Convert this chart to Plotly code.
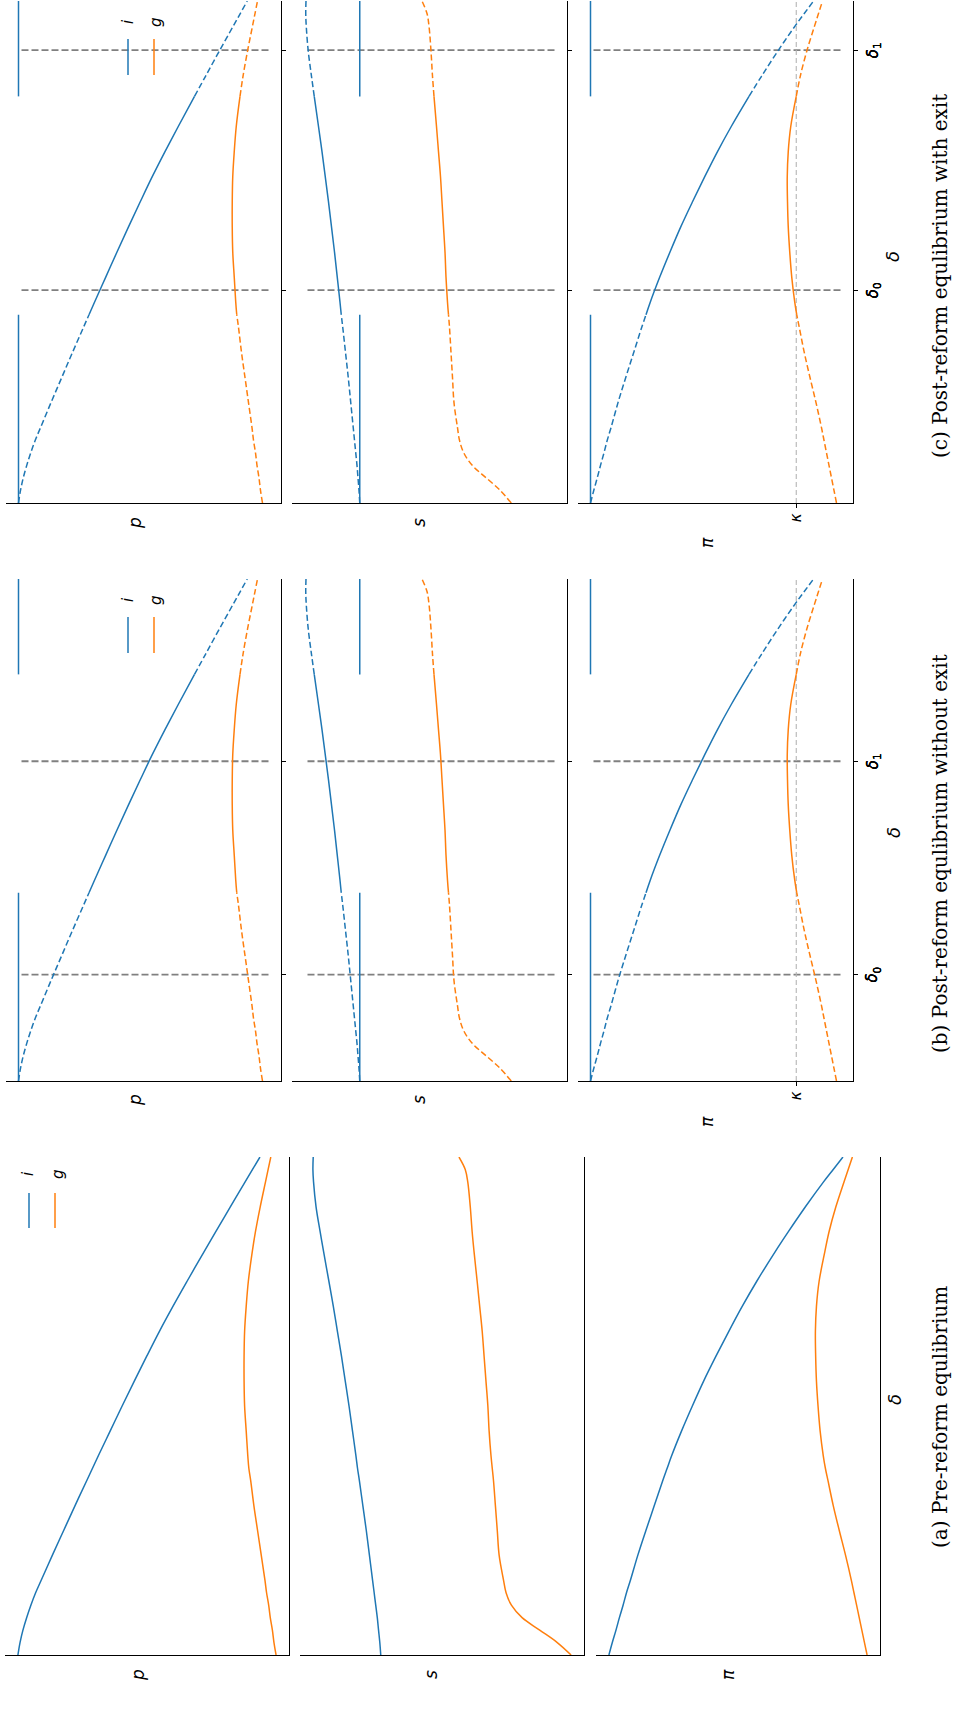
import plotly.graph_objects as go

W, H = 959, 1715

# sample points along delta (shared by every curve)
DELTA = [0, 0.025, 0.05, 0.075, 0.1, 0.125, 0.15, 0.2, 0.25, 0.3, 0.35, 0.375,
         0.4, 0.45, 0.5, 0.55, 0.6, 0.65, 0.7, 0.75, 0.81, 0.85, 0.9, 0.95, 0.975, 1.0]

# pre-reform equilibrium profiles for type i and type g firms
P_I = [1.000, 0.992, 0.981, 0.967, 0.951, 0.933, 0.912, 0.870, 0.827, 0.784, 0.740, 0.718,
       0.696, 0.651, 0.606, 0.560, 0.513, 0.465, 0.414, 0.361, 0.296, 0.252, 0.197, 0.141, 0.113, 0.085]
P_G = [0.024, 0.032, 0.038, 0.046, 0.052, 0.060, 0.066, 0.080, 0.094, 0.108, 0.120, 0.127,
       0.131, 0.137, 0.143, 0.145, 0.145, 0.143, 0.137, 0.129, 0.114, 0.102, 0.084, 0.064, 0.054, 0.044]
S_I = [0.779, 0.782, 0.786, 0.790, 0.795, 0.800, 0.805, 0.815, 0.825, 0.836, 0.847, 0.853,
       0.858, 0.869, 0.880, 0.892, 0.904, 0.917, 0.930, 0.944, 0.961, 0.972, 0.985, 0.993, 0.995, 0.994]
S_G = [0.173, 0.217, 0.273, 0.329, 0.363, 0.380, 0.388, 0.402, 0.408, 0.414, 0.420, 0.424,
       0.428, 0.434, 0.438, 0.444, 0.450, 0.456, 0.464, 0.472, 0.482, 0.488, 0.494, 0.502, 0.510, 0.530]
PI_I = [1.000, 0.987, 0.973, 0.960, 0.946, 0.933, 0.918, 0.890, 0.859, 0.827, 0.795, 0.778,
        0.761, 0.723, 0.682, 0.639, 0.592, 0.543, 0.492, 0.437, 0.366, 0.316, 0.251, 0.182, 0.145, 0.108]
PI_G = [0.016, 0.026, 0.036, 0.046, 0.056, 0.066, 0.076, 0.098, 0.122, 0.145, 0.165, 0.175,
        0.183, 0.195, 0.203, 0.209, 0.212, 0.213, 0.209, 0.199, 0.177, 0.161, 0.135, 0.104, 0.088, 0.072]

KAPPA = 0.177                    # entry cost
DELTA_LO, DELTA_HI = 0.375, 0.81  # where g-firm profit equals kappa
DELTA_MARKS = {"b": (0.212, 0.637), "c": (0.424, 0.902)}  # delta_0, delta_1

VARIABLES = ["p", "s", "pi"]
VAR_LABELS = {"p": "<i>p</i>", "s": "<i>s</i>", "pi": "<i>π</i>"}
SERIES = {"p": (P_I, P_G), "s": (S_I, S_G), "pi": (PI_I, PI_G)}
LEGEND_LABELS = ["i", "g"]
CAPTIONS = {"a": "(a) Pre-reform equlibrium",
            "b": "(b) Post-reform equlibrium without exit",
            "c": "(c) Post-reform equlibrium with exit"}

BLUE, ORANGE = "#1f77b4", "#ff7f0e"

# page layout (pixels); the whole page is drawn turned a quarter turn
PANEL_X = {"a": [(5, 289), (300, 584), (596, 880)],
           "b": [(6, 281), (292, 567), (578, 853)],
           "c": [(6, 281), (292, 567), (578, 853)]}
PANEL_Y = {"a": (1157, 1655), "b": (579, 1081), "c": (1, 503)}
LABEL_X = {"a": [138, 431, 728], "b": [135, 419, 707], "c": [135, 419, 707]}
LABEL_Y = {"a": [1675, 1675, 1675], "b": [1100, 1100, 1122], "c": [523, 523, 543]}
KAPPA_LABEL_Y = {"b": 1096, "c": 518}
DELTA_LABEL = {"a": (894, 1400), "b": (893, 833), "c": (893, 257)}
TICK_LABEL_X = 873
CAPTION_POS = {"a": (940, 1417), "b": (940, 854), "c": (940, 276)}
LEGEND_POS = {"a": ((29, 55), (36, 71), 17, (28, 58)),
              "b": ((128, 154), (38, 74), 21, (128, 156)),
              "c": ((128, 154), (38, 74), 21, (128, 156))}

MATH_FONT = "DejaVu Sans"
CAPTION_FONT = "DejaVu Serif"


def fx(px):
    return px / W


def fy(py):
    return 1 - py / H


fig = go.Figure()
layout = dict(width=W, height=H, margin=dict(l=0, r=0, t=0, b=0), autosize=False,
              paper_bgcolor="white", plot_bgcolor="white", showlegend=False)
annotations = []
shapes = []


def idx(d):
    return DELTA.index(d)


i_lo, i_hi = idx(DELTA_LO), idx(DELTA_HI)

n = 0
for key in ["a", "b", "c"]:
    y_top, y_bot = PANEL_Y[key]
    for j, var in enumerate(VARIABLES):
        n += 1
        xa = "xaxis" if n == 1 else f"xaxis{n}"
        ya = "yaxis" if n == 1 else f"yaxis{n}"
        xr = "x" if n == 1 else f"x{n}"
        yr = "y" if n == 1 else f"y{n}"
        x0, x1 = PANEL_X[key][j]
        vi, vg = SERIES[var]

        if key == "a":
            lo, hi = min(vi + vg), max(vi + vg)
        else:
            lo, hi = 0.0, 1.0
        pad = 0.05 * (hi - lo)

        x_ticks = dict(ticks="")
        y_ticks = dict(ticks="")
        if key != "a":
            y_ticks = dict(ticks="outside", tickvals=list(DELTA_MARKS[key]),
                           ticklen=4, tickwidth=1, tickcolor="black")
            if var == "pi":
                x_ticks = dict(ticks="outside", tickvals=[KAPPA], ticklen=4,
                               tickwidth=1, tickcolor="black")

        layout[xa] = dict(domain=[fx(x0), fx(x1)], range=[hi + pad, lo - pad],
                          anchor=yr, showline=True, linecolor="black", linewidth=1.1,
                          showgrid=False, zeroline=False, showticklabels=False,
                          fixedrange=True, **x_ticks)
        layout[ya] = dict(domain=[fy(y_bot), fy(y_top)], range=[0, 1], anchor=xr,
                          side="right", showline=True, linecolor="black", linewidth=1.1,
                          showgrid=False, zeroline=False, showticklabels=False,
                          fixedrange=True, **y_ticks)

        def line(xs, ys, color, dash="solid", width=1.5, shape="spline"):
            fig.add_trace(go.Scatter(x=xs, y=ys, mode="lines", xaxis=xr, yaxis=yr,
                                     line=dict(color=color, width=width, dash=dash,
                                               shape=shape),
                                     hoverinfo="skip"))

        if key == "a":
            line(vi, DELTA, BLUE)
            line(vg, DELTA, ORANGE)
        else:
            # reference lines at delta_0 / delta_1
            for dm in DELTA_MARKS[key]:
                line([0, 1], [dm, dm], "#808080", dash="7px,3px", width=1.8, shape="linear")
            if var == "pi":
                line([KAPPA, KAPPA], [0, 1], "#b5b5b5", dash="5px,3px", width=1.1,
                     shape="linear")
            for vals, color in ((vi, BLUE), (vg, ORANGE)):
                line(vals[:i_lo + 1], DELTA[:i_lo + 1], color, dash="6px,3px")
                line(vals[i_lo:i_hi + 1], DELTA[i_lo:i_hi + 1], color)
                line(vals[i_hi:], DELTA[i_hi:], color, dash="6px,3px")
            # post-reform i firms outside the band keep the corner value
            c = vi[0]
            line([c, c], [0, DELTA_LO], BLUE, shape="linear")
            line([c, c], [DELTA_HI, 1], BLUE, shape="linear")

            # delta tick labels
            for dm, sub in zip(DELTA_MARKS[key], ["0", "1"]):
                annotations.append(dict(
                    text=f"<i>δ</i><sub>{sub}</sub>", xref="paper", yref=yr,
                    x=fx(TICK_LABEL_X), y=dm, showarrow=False, textangle=-90,
                    xanchor="center", yanchor="middle",
                    font=dict(family=MATH_FONT, size=15, color="black")))
            if var == "pi":
                annotations.append(dict(
                    text="<i>κ</i>", xref=xr, yref="paper", x=KAPPA,
                    y=fy(KAPPA_LABEL_Y[key]), showarrow=False, textangle=-90,
                    xanchor="center", yanchor="middle",
                    font=dict(family=MATH_FONT, size=15, color="black")))

        # variable label
        annotations.append(dict(
            text=VAR_LABELS[var], xref="paper", yref="paper",
            x=fx(LABEL_X[key][j]), y=fy(LABEL_Y[key][j]), showarrow=False,
            textangle=-90, xanchor="center", yanchor="middle",
            font=dict(family=MATH_FONT, size=17, color="black")))

    # delta axis label
    dx, dy = DELTA_LABEL[key]
    annotations.append(dict(
        text="<i>δ</i>", xref="paper", yref="paper", x=fx(dx), y=fy(dy),
        showarrow=False, textangle=-90, xanchor="center", yanchor="middle",
        font=dict(family=MATH_FONT, size=18, color="black")))

    # caption
    cx, cy = CAPTION_POS[key]
    annotations.append(dict(
        text=CAPTIONS[key], xref="paper", yref="paper", x=fx(cx), y=fy(cy),
        showarrow=False, textangle=-90, xanchor="center", yanchor="middle",
        font=dict(family=CAPTION_FONT, size=20, color="black")))

    # legend: short handles with the type names beside them
    hx, (h0, h1), ly, lx = LEGEND_POS[key]
    for k, (color, name) in enumerate(zip([BLUE, ORANGE], LEGEND_LABELS)):
        shapes.append(dict(type="line", xref="paper", yref="paper",
                           x0=fx(hx[k]), x1=fx(hx[k]),
                           y0=fy(y_top + h0), y1=fy(y_top + h1),
                           line=dict(color=color, width=1.5)))
        annotations.append(dict(
            text=f"<i>{name}</i>", xref="paper", yref="paper",
            x=fx(lx[k]), y=fy(y_top + ly), showarrow=False, textangle=-90,
            xanchor="center", yanchor="middle",
            font=dict(family=MATH_FONT, size=15, color="black")))

layout["annotations"] = annotations
layout["shapes"] = shapes
fig.update_layout(**layout)
fig.write_html("out.html")
